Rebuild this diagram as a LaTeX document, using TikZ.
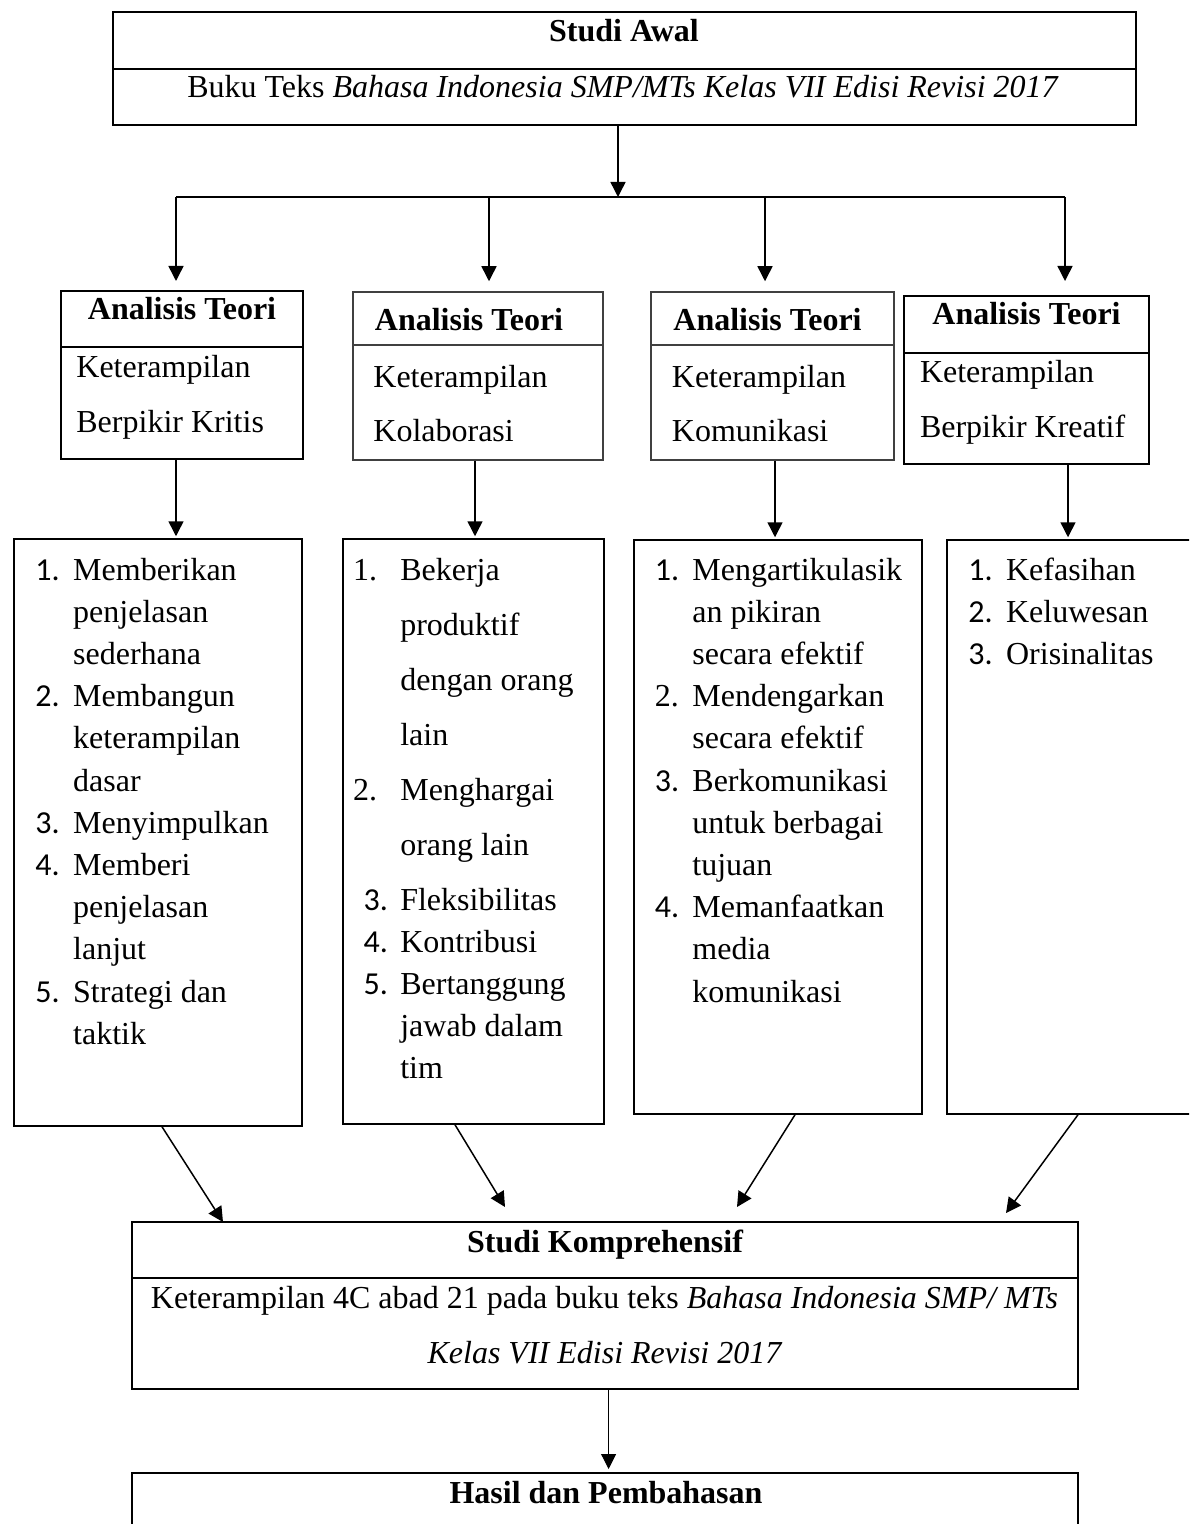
\documentclass[tikz,border=0pt]{standalone}
\usepackage{fontspec}
\setmainfont{Liberation Serif}
\newfontfamily\numfont{Carlito}
\usetikzlibrary{arrows.meta,positioning,fit}

\newcommand{\nr}[1]{{\numfont #1}}

\tikzset{
  every node/.style={inner sep=0pt, font=\fontsize{16}{21.1}\selectfont},
  boxthick/.style={draw, line width=1pt},
  boxthin/.style={draw, line width=.75pt},
  boxgrey/.style={draw=black!75, line width=.75pt},
  head/.style={anchor=base, font=\fontsize{16}{21.1}\selectfont\bfseries},
  txt/.style={anchor=base west},
  arr/.style={-{Triangle[length=7.5pt,width=7.5pt]}, line width=.75pt}
}

\begin{document}
\begin{tikzpicture}[x=0.5pt,y=-0.5pt]
    \clip (0,0) rectangle (1189,1524);

    % studi awal
    \node[boxthick, fit={(113,12) (1136,125)}] (awal) {};
    \draw[line width=1pt] (113,69) -- (1136,69);
    \node[head] (awal-judul) at (624,42) {Studi Awal};
    \node[anchor=base] (awal-isi) at (623,98) {Buku Teks \textit{Bahasa Indonesia SMP/MTs Kelas VII Edisi Revisi 2017}};

    % analisis teori
    \node[boxthick, fit={(61,291) (303,459)}] (teori1) {};
    \node[boxgrey, fit={(353,292) (603,460)}] (teori2) {};
    \node[boxgrey, fit={(651,292) (894,460)}] (teori3) {};
    \node[boxthick, fit={(904,296) (1149,464)}] (teori4) {};
    \draw[line width=1pt] (61,347) -- (303,347);
    \draw[black!75, line width=.75pt] (353,345) -- (603,345);
    \draw[black!75, line width=.75pt] (651,345) -- (894,345);
    \draw[line width=1pt] (904,353) -- (1149,353);
    \foreach \x/\y/\n in {182/320/1, 469/331/2, 767.5/331/3, 1026.5/325/4}
      \node[head] (judul\n) at (\x,\y) {Analisis Teori};
    \node[txt] (teori1-a) at (76,377) {Keterampilan};
    \node[txt] (teori1-b) at (76,432) {Berpikir Kritis};
    \node[txt] (teori2-a) at (373,387) {Keterampilan};
    \node[txt] (teori2-b) at (373,441) {Kolaborasi};
    \node[txt] (teori3-a) at (671.5,387) {Keterampilan};
    \node[txt] (teori3-b) at (671.5,441) {Komunikasi};
    \node[txt] (teori4-a) at (919.6,382) {Keterampilan};
    \node[txt] (teori4-b) at (919.6,437) {Berpikir Kreatif};

    % cabang
    \coordinate (cabang) at (618,197);
    \coordinate (c1) at (176,197);
    \coordinate (c2) at (489,197);
    \coordinate (c3) at (765,197);
    \coordinate (c4) at (1065,197);
    \draw[arr] (awal.south -| cabang) -- (cabang);
    \draw[line width=1pt] (c1) -- (c4);
    \foreach \i/\s in {1/4.5pt, 2/5pt, 3/5pt, 4/7pt}
      \draw[arr, shorten >=\s] (c\i) -- (c\i |- teori\i.north);

    % daftar indikator
    \node[boxthin, fit={(14,539) (302,1126)}] (daftar1) {};
    \node[boxthin, fit={(343,539) (604,1124)}] (daftar2) {};
    \node[boxthin, fit={(634,540) (922,1114)}] (daftar3) {};
    \node[boxthin, fit={(947,540) (1200,1114)}] (daftar4) {};
    \coordinate (d1) at (176,500);
    \coordinate (d2) at (475,500);
    \coordinate (d3) at (775,500);
    \coordinate (d4) at (1068,500);
    \foreach \i in {1,...,4}
      \draw[arr, shorten >=1pt] (teori\i.south -| d\i) -- (daftar\i.north -| d\i);

    \node[txt] (isi1) at (35,580) {\begin{tabular}[t]{@{}p{18.9pt}@{}l@{}}
      \nr{1.} & Memberikan\\
       & penjelasan\\
       & sederhana\\
      \nr{2.} & Membangun\\
       & keterampilan\\
       & dasar\\
      \nr{3.} & Menyimpulkan\\
      \nr{4.} & Memberi\\
       & penjelasan\\
       & lanjut\\
      \nr{5.} & Strategi dan\\
       & taktik
    \end{tabular}};
    \node[txt] (isi2) at (352.7,580) {\begin{tabular}[t]{@{}p{23.6pt}@{}l@{}}
      1. & Bekerja\\[6.4pt]
       & produktif\\[6.4pt]
       & dengan orang\\[6.4pt]
       & lain\\[6.4pt]
      2. & Menghargai\\[6.4pt]
       & orang lain\\[6.4pt]
      \hspace{5.3pt}\nr{3.} & Fleksibilitas\\
      \hspace{5.3pt}\nr{4.} & Kontribusi\\
      \hspace{5.3pt}\nr{5.} & Bertanggung\\
       & jawab dalam\\
       & tim
    \end{tabular}};
    \node[txt] (isi3) at (654.5,580) {\begin{tabular}[t]{@{}p{18.75pt}@{}l@{}}
      \nr{1.} & Mengartikulasik\\
       & an pikiran\\
       & secara efektif\\
      2. & Mendengarkan\\
       & secara efektif\\
      \nr{3.} & Berkomunikasi\\
       & untuk berbagai\\
       & tujuan\\
      \nr{4.} & Memanfaatkan\\
       & media\\
       & komunikasi
    \end{tabular}};
    \node[txt] (isi4) at (968,580) {\begin{tabular}[t]{@{}p{18.85pt}@{}l@{}}
      \nr{1.} & Kefasihan\\
      \nr{2.} & Keluwesan\\
      \nr{3.} & Orisinalitas
    \end{tabular}};

    % studi komprehensif
    \node[boxthick, fit={(132,1222) (1078,1389)}] (kompre) {};
    \draw[line width=1pt] (132,1278) -- (1078,1278);
    \node[head] (kompre-judul) at (605,1252) {Studi Komprehensif};
    \node[anchor=base] (kompre-isi1) at (604.5,1308) {Keterampilan 4C abad 21 pada buku teks \textit{Bahasa Indonesia SMP/ MTs}};
    \node[anchor=base] (kompre-isi2) at (605,1363) {\textit{Kelas VII Edisi Revisi 2017}};

    \coordinate (k1) at (223,1222);
    \coordinate (k2) at (505,1207);
    \coordinate (k3) at (737,1207);
    \coordinate (k4) at (1006,1213);
    \draw[arr] ([xshift=2pt]daftar1.south) -- (k1);
    \draw[arr] ([xshift=-9.25pt]daftar2.south) -- (k2);
    \draw[arr] ([xshift=8.5pt]daftar3.south) -- (k3);
    \draw[arr] ([xshift=2.25pt]daftar4.south) -- (k4);

    % hasil
    \node[boxthick, fit={(132,1473) (1078,1600)}] (hasil) {};
    \node[head] (hasil-judul) at (606,1503) {Hasil dan Pembahasan};
    \coordinate (m) at (608.6,1430);
    \draw[arr, line width=.5pt, shorten >=1.5pt] (kompre.south -| m) -- (hasil.north -| m);
\end{tikzpicture}
\end{document}
